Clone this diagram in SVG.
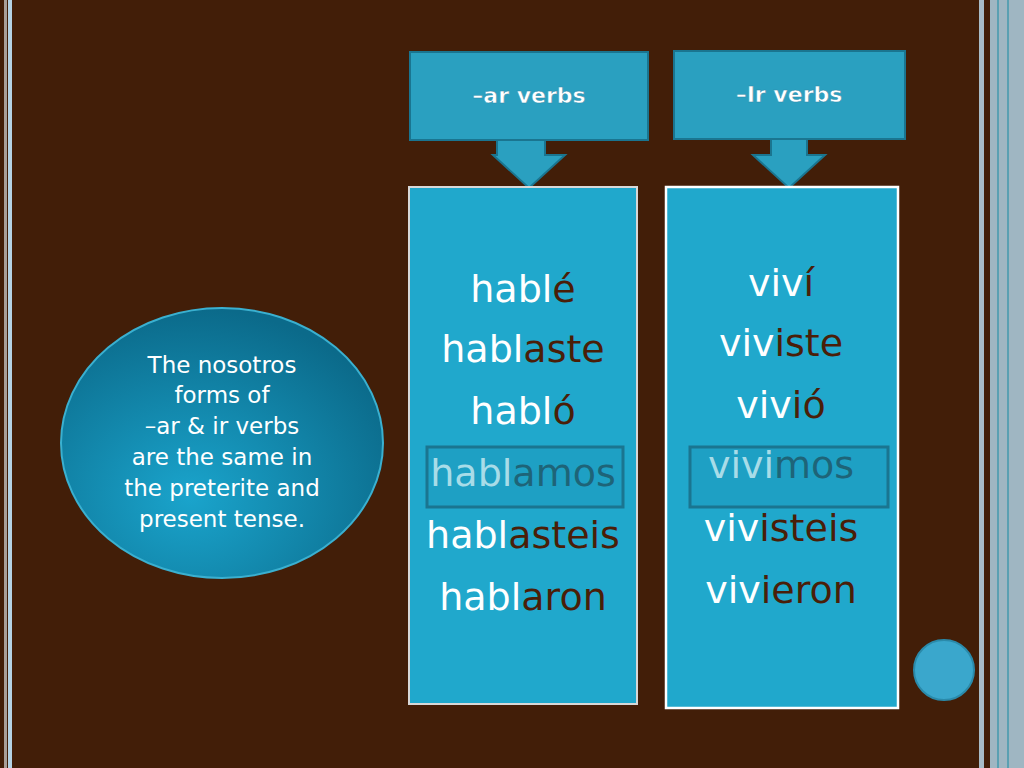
<svg xmlns="http://www.w3.org/2000/svg" width="1024" height="768" viewBox="0 0 1024 768">
<defs>
<radialGradient id="eg" cx="0.4" cy="0.7" r="0.7"><stop offset="0" stop-color="#1aa4cc"/><stop offset="1" stop-color="#0b6a8a"/></radialGradient>
</defs>
<style>
.w{font-family:"DejaVu Sans","Verdana",sans-serif;font-size:38px;text-anchor:middle;fill:#ffffff}
.e{fill:#4a1e08}
.ls{fill:#a8dce8}.ld{fill:#1e6478}
.hd{font-family:"DejaVu Sans",sans-serif;font-weight:bold;font-size:22px;fill:#ffffff;text-anchor:middle;stroke:#2a8aaa;stroke-width:0.5}
.ct{font-family:"DejaVu Sans",sans-serif;font-size:23px;fill:#ffffff;text-anchor:middle}
.cb{fill:#2aa0c0;stroke:#1a7590;stroke-width:2}
</style>
<rect width="1024" height="768" fill="#421e08"/>
<rect x="4" y="0" width="3" height="768" fill="#a89e98"/>
<rect x="8" y="0" width="4" height="768" fill="#b4d2e4"/>
<rect x="979" y="0" width="5" height="768" fill="#a8bcc8"/>
<rect x="990" y="0" width="34" height="768" fill="#9fb6c2"/>
<rect x="997" y="0" width="2" height="768" fill="#5aa0b2"/>
<rect x="1007" y="0" width="2" height="768" fill="#5aa0b2"/>
<g id="connectors">
<path class="cb" d="M497,139 L497,155 L493,155 L529,188 L565,155 L545,155 L545,139 Z"/>
<path class="cb" d="M771,139 L771,155 L753,155 L789,188 L825,155 L807,155 L807,139 Z"/>
</g>
<g id="ar-header"><rect class="cb" x="410" y="52" width="238" height="88"/><text class="hd" x="529" y="103">–ar verbs</text></g>
<g id="ir-header"><rect class="cb" x="674" y="51" width="231" height="88"/><text class="hd" x="789" y="102">–Ir verbs</text></g>
<g id="ar-box">
<rect x="409" y="187" width="228" height="517" fill="#20a8cc" stroke="#d8d8d8" stroke-width="2"/>
<rect x="427" y="447" width="196" height="60" fill="#1ea0c4" stroke="#1a7590" stroke-width="3"/>
<text class="w" x="523" y="302">habl<tspan class="e">é</tspan></text>
<text class="w" x="523" y="362">habl<tspan class="e">aste</tspan></text>
<text class="w" x="523" y="424">habl<tspan class="e">ó</tspan></text>
<text class="w" x="523" y="486"><tspan class="ls">habl</tspan><tspan class="ld">amos</tspan></text>
<text class="w" x="523" y="548">habl<tspan class="e">asteis</tspan></text>
<text class="w" x="523" y="610">habl<tspan class="e">aron</tspan></text>
</g>
<g id="ir-box">
<rect x="666" y="187" width="232" height="521" fill="#20a8cc" stroke="#ffffff" stroke-width="2.5"/>
<rect x="690" y="447" width="198" height="60" fill="#1ea0c4" stroke="#1a7590" stroke-width="3"/>
<text class="w" x="781" y="296">viv<tspan class="e">í</tspan></text>
<text class="w" x="781" y="356">viv<tspan class="e">iste</tspan></text>
<text class="w" x="781" y="418">viv<tspan class="e">ió</tspan></text>
<text class="w" x="781" y="478"><tspan class="ls">vivi</tspan><tspan class="ld">mos</tspan></text>
<text class="w" x="781" y="541">viv<tspan class="e">isteis</tspan></text>
<text class="w" x="781" y="603">viv<tspan class="e">ieron</tspan></text>
</g>
<g id="note">
<ellipse cx="222" cy="443" rx="161" ry="135" fill="url(#eg)" stroke="#3ab0d0" stroke-width="2"/>
<text class="ct" x="222" y="373">The nosotros</text>
<text class="ct" x="222" y="403">forms of</text>
<text class="ct" x="222" y="434">–ar &amp; ir verbs</text>
<text class="ct" x="222" y="465">are the same in</text>
<text class="ct" x="222" y="496">the preterite and</text>
<text class="ct" x="222" y="527">present tense.</text>
</g>
<circle cx="944" cy="670" r="30" fill="#3aa7cc" stroke="#2a8aaa" stroke-width="2"/>
</svg>
